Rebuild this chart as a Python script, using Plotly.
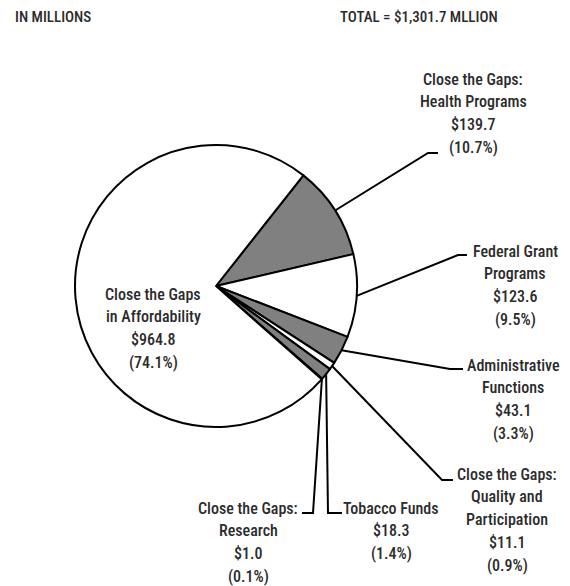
import math
import plotly.graph_objects as go

# ---- data ----
categories = [
    ["Close the Gaps:", "Health Programs"],
    ["Federal Grant", "Programs"],
    ["Administrative", "Functions"],
    ["Close the Gaps:", "Quality and", "Participation"],
    ["Tobacco Funds"],
    ["Close the Gaps:", "Research"],
    ["Close the Gaps", "in Affordability"],
]
values = [139.7, 123.6, 43.1, 11.1, 18.3, 1.0, 964.8]
percents = ["10.7%", "9.5%", "3.3%", "0.9%", "1.4%", "0.1%", "74.1%"]
total_reported = 1301.7
fills = ["#808080", "#ffffff", "#808080", "#ffffff", "#808080", "#ffffff", "#ffffff"]

W, H = 570, 586
CX, CY, R = 216, 286, 141
START = 38.3  # degrees clockwise from 12 o'clock
LINE_GAP = 22.8

FONT = "Roboto Condensed, DejaVu Sans Condensed, sans-serif"
TXT = "#2b2b2b"

def px(x):
    return x / W

def py(y):
    return 1 - y / H

fig = go.Figure()
fig.add_trace(go.Pie(
    labels=[" ".join(c) for c in categories],
    values=values,
    sort=False,
    direction="clockwise",
    rotation=START,
    marker=dict(colors=fills, line=dict(color="#000000", width=2)),
    textinfo="none",
    hoverinfo="label+value+percent",
    showlegend=False,
    domain=dict(x=[px(CX - R), px(CX + R)], y=[py(CY + R), py(CY - R)]),
))

# label layout (x centre, y of first line, elbow, end of leader)
label_pos = [
    (473, 79, (428, 153), (438, 153)),
    (515, 251, (458, 255), (467, 255)),
    (513, 365, (450, 369), (463, 369)),
    (507, 474, (442, 480), (453, 480)),
    (391, 508, (328, 513), (342, 513)),
    (248, 508, (313, 513), (302, 513)),
    (153, 294, None, None),
]

total = sum(values)
cum = 0.0
shapes = []
annotations = []
for cat, val, pct, (lx, ly, elbow, end) in zip(categories, values, percents, label_pos):
    mid = START + 360 * (cum + val / 2) / total
    cum += val
    lines = list(cat) + [f"${val:,.1f}", f"({pct})"]
    for i, line in enumerate(lines):
        annotations.append(dict(
            x=px(lx), y=py(ly + i * LINE_GAP), xref="paper", yref="paper",
            text=line, showarrow=False, xanchor="center", yanchor="middle",
            align="center", font=dict(family=FONT, size=16, color=TXT, weight=500),
        ))
    if elbow is not None:
        a = math.radians(mid)
        sx = CX + R * math.sin(a)
        sy = CY - R * math.cos(a)
        path = (f"M {px(sx)},{py(sy)} L {px(elbow[0])},{py(elbow[1])} "
                f"L {px(end[0])},{py(end[1])}")
        shapes.append(dict(type="path", xref="paper", yref="paper", path=path,
                           line=dict(color="#000000", width=2)))

annotations.append(dict(
    x=px(13), y=py(17), xref="paper", yref="paper", text="IN MILLIONS",
    showarrow=False, xanchor="left", yanchor="middle",
    font=dict(family=FONT, size=15, color=TXT, weight=500),
))
annotations.append(dict(
    x=px(500), y=py(17), xref="paper", yref="paper",
    text=f"TOTAL = ${total_reported:,.1f} MLLION",
    showarrow=False, xanchor="right", yanchor="middle",
    font=dict(family=FONT, size=15, color=TXT, weight=500),
))

fig.update_layout(
    width=W, height=H,
    margin=dict(l=0, r=0, t=0, b=0),
    paper_bgcolor="#ffffff", plot_bgcolor="#ffffff",
    shapes=shapes, annotations=annotations,
)
fig.write_html("out.html", config={"displayModeBar": False},
               post_script="document.body.style.margin='0';document.body.style.overflow='hidden';")
